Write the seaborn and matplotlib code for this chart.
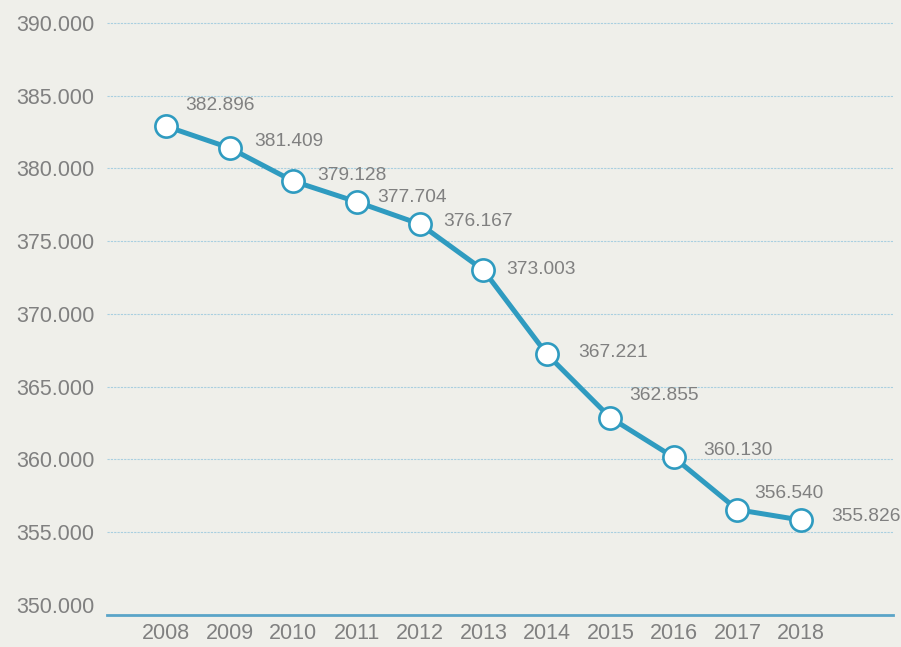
import matplotlib
matplotlib.use("Agg")
import matplotlib.pyplot as plt
import seaborn as sns
import pandas as pd

years = ["2008", "2009", "2010", "2011", "2012", "2013", "2014", "2015", "2016", "2017", "2018"]
values = [382.896, 381.409, 379.128, 377.704, 376.167, 373.003, 367.221, 362.855, 360.130, 356.540, 355.826]
labels = ["382.896", "381.409", "379.128", "377.704", "376.167", "373.003", "367.221", "362.855", "360.130", "356.540", "355.826"]
yticks = [350, 355, 360, 365, 370, 375, 380, 385, 390]
ytick_labels = ["350.000", "355.000", "360.000", "365.000", "370.000", "375.000", "380.000", "385.000", "390.000"]

# label offsets in pixels (dx, dy up)
offsets = [(19, 21), (25, 6), (24, 6), (21, 4), (23, 3), (23, 1), (31, 2), (19, 22), (29, 7), (17, 16), (30, 4)]

bg = "#efefea"
grey = "#808080"
blue = "#2f9bc0"

sns.set_theme(style="white")
plt.rcParams["font.family"] = ["Liberation Sans", "DejaVu Sans"]

df = pd.DataFrame({"idx": range(len(years)), "value": values})

fig = plt.figure(figsize=(9.01, 6.47), dpi=100, facecolor=bg)
ax = fig.add_axes([107 / 901, 1 - 615 / 647, (893 - 107) / 901, (615 - 20) / 647])
ax.set_facecolor(bg)

sns.lineplot(data=df, x="idx", y="value", ax=ax, color=blue, linewidth=3.6,
             marker="o", markersize=16, markerfacecolor="white",
             markeredgecolor=blue, markeredgewidth=1.9, zorder=3)

for i, (v, lab) in enumerate(zip(values, labels)):
    dx, dy = offsets[i]
    ax.annotate(lab, (i, v), xytext=(dx * 0.72, dy * 0.72), textcoords="offset points",
                ha="left", va="center", fontsize=13.8, color=grey)

ax.set_xlim(-0.93, 11.45)
ax.set_ylim(349.3, 390.2)

for t in yticks[1:]:
    ax.axhline(t, color="#a9cfe0", linewidth=0.8, linestyle=(0, (2, 1)), zorder=1)

ax.set_yticks(yticks)
ax.set_yticklabels(ytick_labels)
ax.set_xticks(range(len(years)))
ax.set_xticklabels(years)
ax.tick_params(axis="y", labelsize=15.5, colors=grey, length=0, pad=9)
ax.tick_params(axis="x", labelsize=15.5, colors=grey, length=0, pad=6)
for lab in ax.get_yticklabels():
    lab.set_horizontalalignment("right")

ax.set_xlabel("")
ax.set_ylabel("")
for s in ["top", "right", "left"]:
    ax.spines[s].set_visible(False)
ax.spines["bottom"].set_color("#5aa4c8")
ax.spines["bottom"].set_linewidth(2)

fig.savefig("out.png", dpi=100, facecolor=bg)
